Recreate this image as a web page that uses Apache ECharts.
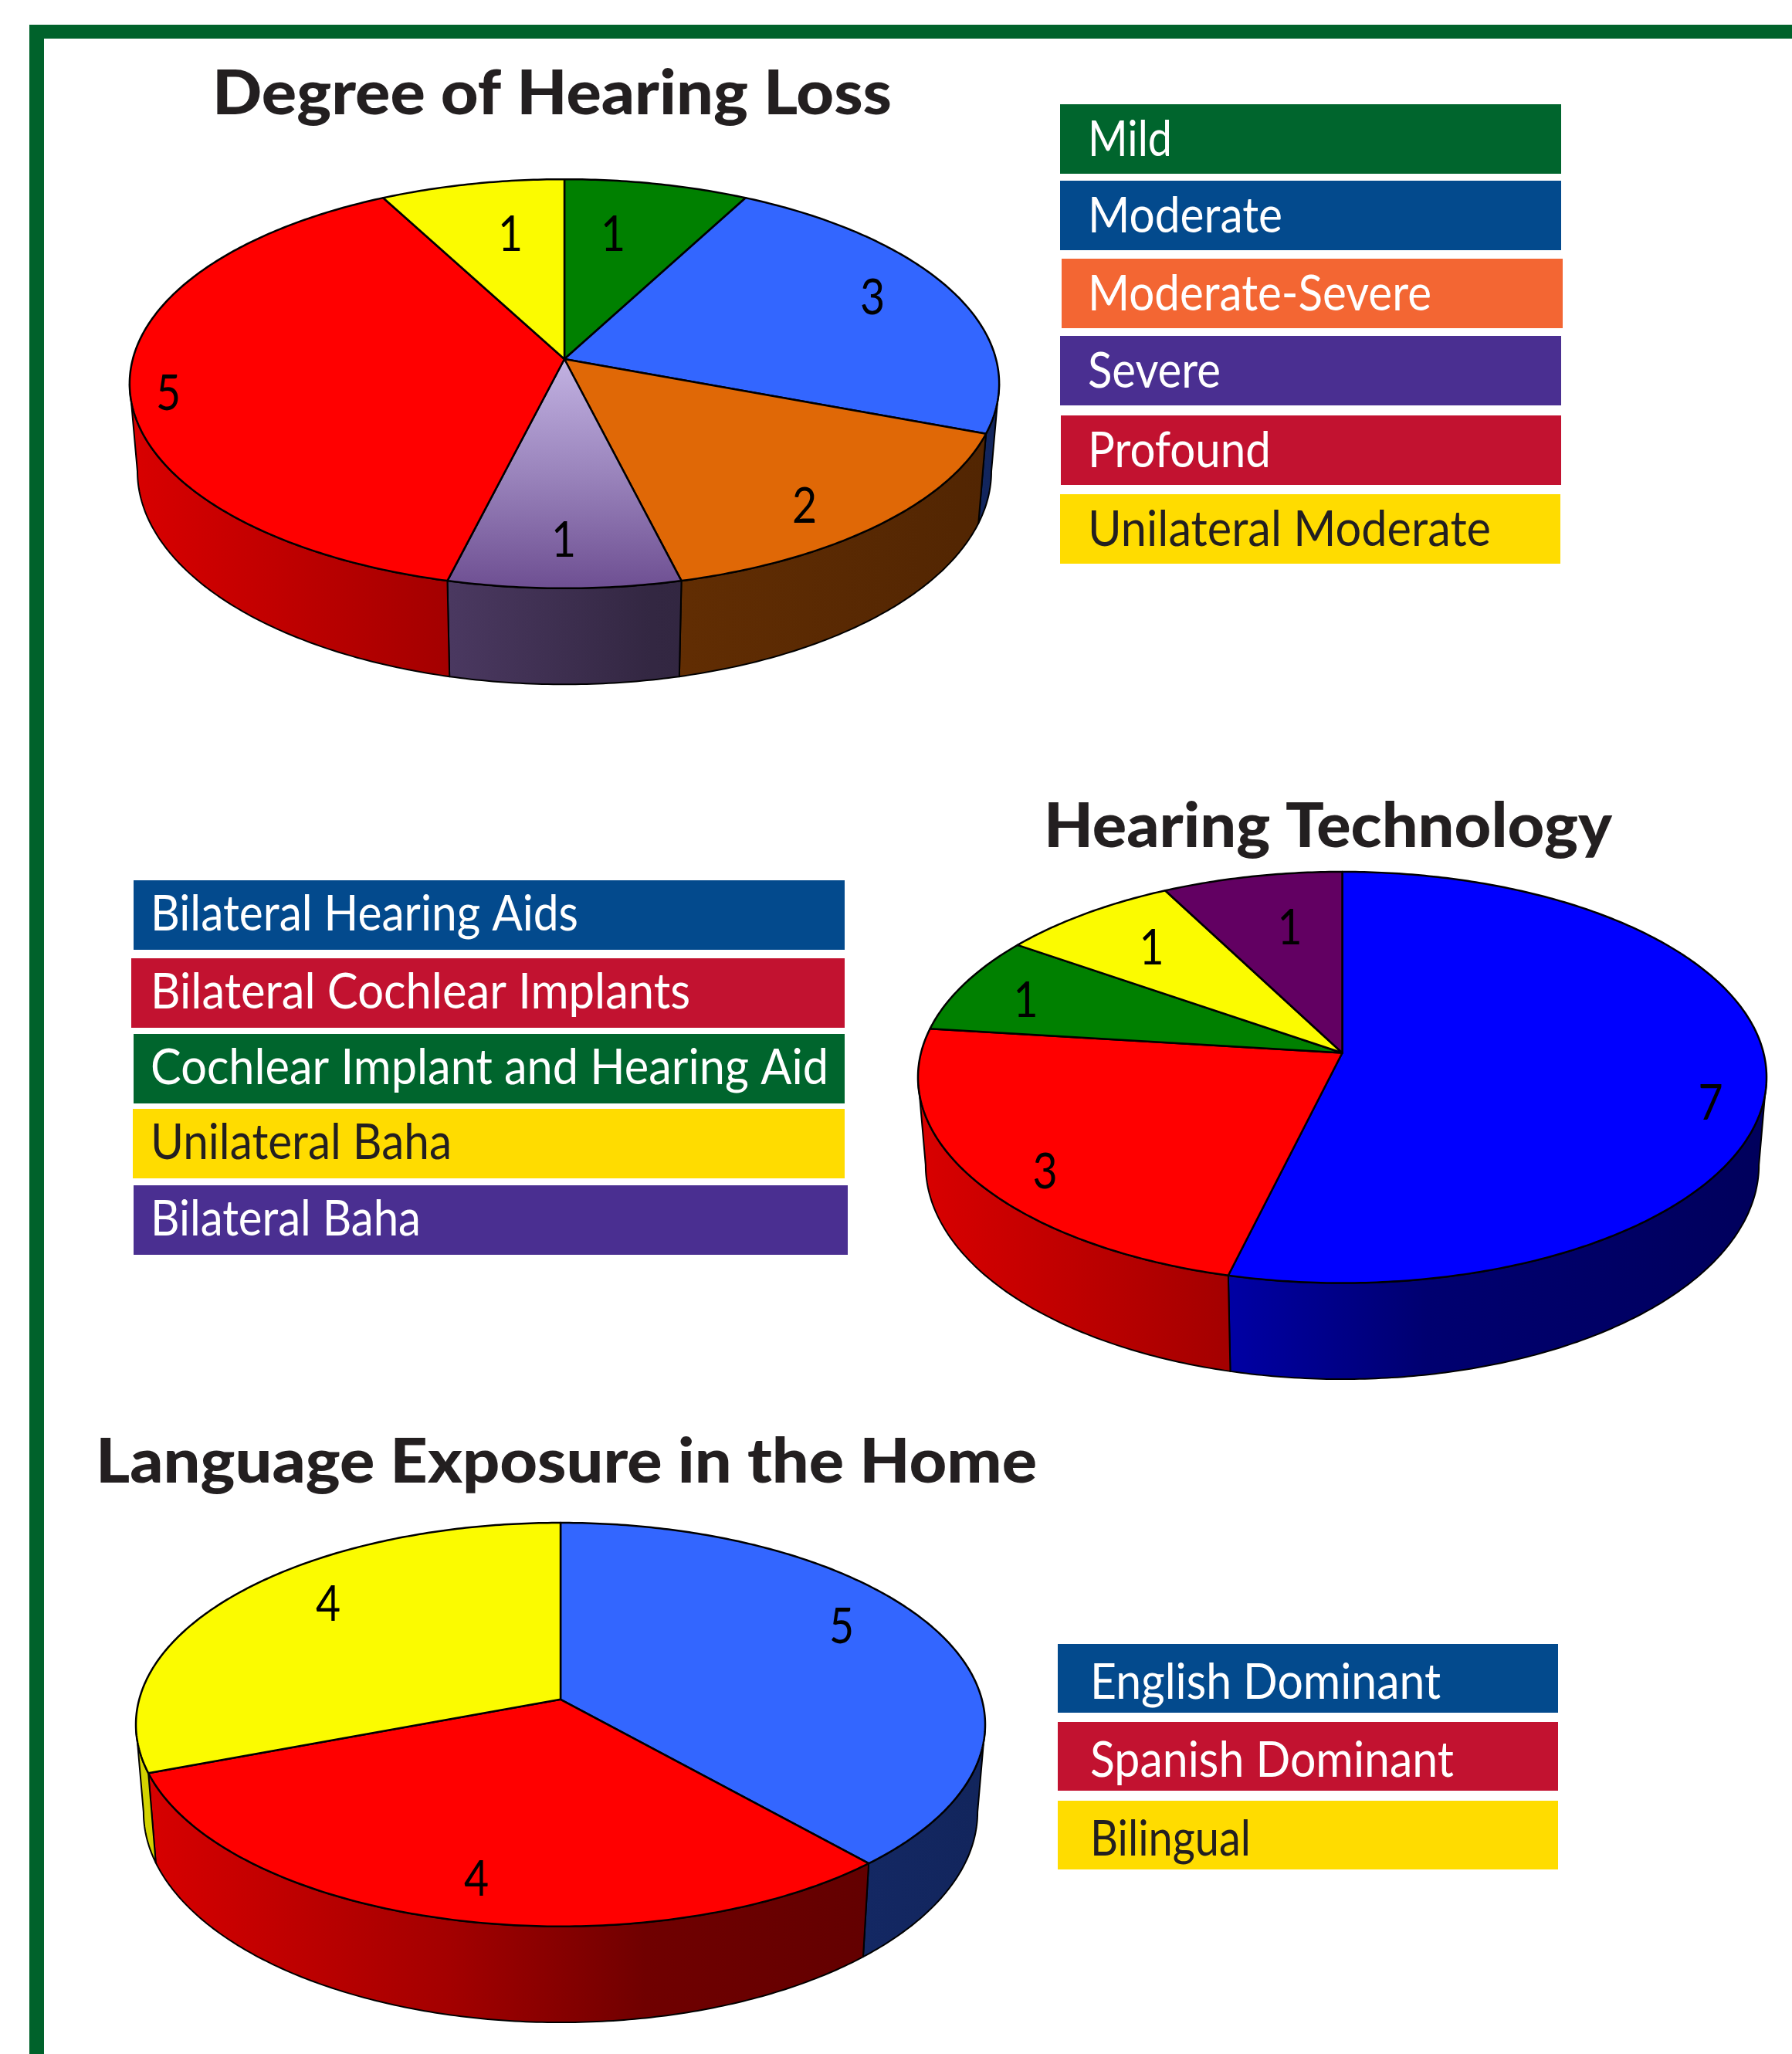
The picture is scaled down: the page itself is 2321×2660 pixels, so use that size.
<!DOCTYPE html>
<html><head><meta charset="utf-8">
<style>html,body{margin:0;padding:0;background:#fff}#c{width:2321px;height:2660px}</style>
<script src="https://cdn.jsdelivr.net/npm/echarts@6/dist/echarts.min.js"></script>
</head><body><div id="c"></div>
<script>
// ---------- data ----------
const degreeTitle = 'Degree of Hearing Loss';
const degreeCategories = ['Mild','Moderate','Moderate-Severe','Severe','Profound','Unilateral Moderate'];
const degreeValues = [1,3,2,1,5,1];
const techTitle = 'Hearing Technology';
const techCategories = ['Bilateral Hearing Aids','Bilateral Cochlear Implants','Cochlear Implant and Hearing Aid','Unilateral Baha','Bilateral Baha'];
const techValues = [7,3,1,1,1];
const langTitle = 'Language Exposure in the Home';
const langCategories = ['English Dominant','Spanish Dominant','Bilingual'];
const langValues = [5,4,4];

// ---------- styles ----------
const GREEN='#008000', BLUE='#3366ff', ORANGE='#e06806', RED='#ff0000', YELLOW='#fbfb00', PLUM='#620062', PURE='#0000ff', LILAC='#745896';
const TXT='#231f20';
const LEG={green:'#00652d',blue:'#034a8d',orange:'#f36633',purple:'#4a2f91',red:'#c21230',yellow:'#ffdc00'};
const shadeStops=[[0,.85],[.37,.64],[.6,.44],[1,.36]];
const lilacTop={type:'linear',global:true,x:0,y:465,x2:0,y2:762,colorStops:[{offset:0,color:'#c2b2e2'},{offset:.5,color:'#9a84bc'},{offset:1,color:'#6e4f92'}]};

// ---------- layout ----------
const pies=[
 {values:degreeValues,colors:[GREEN,BLUE,ORANGE,LILAC,RED,YELLOW],topFill:{3:lilacTop},
  cx:731,ay:465,A:559,B:261,k:.1208,
  labelDx:[63,399,311,-1,-513,-70],labelDy:[-160,-78,192,236,46,-160]},
 {values:techValues,colors:[PURE,RED,GREEN,YELLOW,PLUM],topFill:{},
  cx:1738.5,ay:1363.5,A:545.6,B:262.5,k:.1193,
  labelDx:[477,-385,-410,-247,-68],labelDy:[66,155,-67,-135,-161]},
 {values:langValues,colors:[BLUE,RED,YELLOW],topFill:{},
  cx:726,ay:2200.8,A:545.7,B:257.3,k:.1247,
  labelDx:[364,-109,-301],labelDy:[-93,234,-122]}
];
const wallScale=.982, wallDrop=112, wallStretch=1.042;

const titles=[
 {text:degreeTitle,x:275,w:880,y:122},
 {text:techTitle,x:1352,w:736,y:1071},
 {text:langTitle,x:124,w:1219,y:1894}
];
const legends=[
 {labels:degreeCategories,textX:1409,capMid:47,
  boxes:[[1373,135,649,90],[1373,234,649,90],[1375,335,649,90],[1373,435,649,90],[1374,538,648,90],[1373,640,648,90]],
  fills:[LEG.green,LEG.blue,LEG.orange,LEG.purple,LEG.red,LEG.yellow],
  widths:[109,252,445,172,237,522]},
 {labels:techCategories,textX:195,capMid:45,
  boxes:[[173,1140,921,90],[170,1241,924,90],[173,1339,921,90],[172,1436,922,90],[173,1535,925,90]],
  fills:[LEG.blue,LEG.red,LEG.green,LEG.yellow,LEG.purple],
  widths:[554,699,878,390,350]},
 {labels:langCategories,textX:1412,capMid:50.5,
  boxes:[[1370,2129,648,89],[1370,2230,648,89],[1370,2332,648,89]],
  fills:[LEG.blue,LEG.red,LEG.yellow],
  widths:[454,471,208]}
];

// ---------- helpers ----------
const mctx=document.createElement('canvas').getContext('2d');
function fitScale(text,font,w){mctx.font=font;return w/mctx.measureText(text).width;}
function hex(c){c=c.slice(1);return [0,2,4].map(i=>parseInt(c.substr(i,2),16));}
function shaded(c,f){const h=hex(c);return 'rgb('+h.map(v=>Math.round(v*f)).join(',')+')';}
function pt(g,deg,bottom){
  const t=deg*Math.PI/180,s=Math.sin(t),c=Math.cos(t),d=1+g.k*c;
  if(bottom) return [g.cx+wallScale*g.A*s/d, g.ay+wallDrop-g.B*wallStretch*c/d];
  return [g.cx+g.A*s/d, g.ay-g.B*c/d];
}
function arc(g,a,b,bottom){
  const n=Math.max(2,Math.ceil(Math.abs(b-a)*1.5)),r=[];
  for(let i=0;i<=n;i++) r.push(pt(g,a+(b-a)*i/n,bottom));
  return r;
}
function makeSeries(g){
  const total=g.values.reduce((a,b)=>a+b,0);
  const starts=[];let acc=0;
  g.values.forEach(v=>{starts.push(acc/total*360);acc+=v;});
  const tan=Math.acos(-g.k)*180/Math.PI;
  const rx=g.A/Math.sqrt(1-g.k*g.k);
  return {
    type:'custom',coordinateSystem:'none',silent:true,animation:false,
    data:g.values.map(v=>[v]),
    renderItem:function(params,api){
      const i=params.dataIndex,val=api.value(0),a=starts[i],b=a+val/total*360;
      const col=g.colors[i],kids=[];
      const wa=Math.max(a,tan),wb=Math.min(b,360-tan);
      if(wb>wa){
        const pts=arc(g,wa,wb,false).concat(arc(g,wb,wa,true));
        kids.push({type:'polygon',z2:1,shape:{points:pts},style:{
          fill:{type:'linear',global:true,x:g.cx-rx,y:0,x2:g.cx+rx,y2:0,
            colorStops:shadeStops.map(s=>({offset:s[0],color:shaded(col,s[1])}))},
          stroke:'#000',lineWidth:2,lineJoin:'round'}});
      }
      const top=[[g.cx,g.ay]].concat(arc(g,a,b,false));
      kids.push({type:'polygon',z2:2,shape:{points:top},style:{
        fill:g.topFill[i]||col,stroke:'#000',lineWidth:2.5,lineJoin:'round'}});
      const font='400 63px Lato',str=String(val);
      kids.push({type:'text',z2:3,x:g.cx+g.labelDx[i],y:g.ay+g.labelDy[i],scaleX:.88,style:{
        text:str,font:font,fill:'#000',textAlign:'center',textVerticalAlign:'middle'}});
      return {type:'group',children:kids};
    }
  };
}

// ---------- graphics ----------
const elements=[
 {type:'rect',shape:{x:38,y:32,width:2283,height:18},style:{fill:'#00622b'}},
 {type:'rect',shape:{x:38,y:32,width:19,height:2628},style:{fill:'#00622b'}}
];
titles.forEach(t=>{
  const font='900 80px Lato';
  elements.push({type:'text',x:t.x,y:t.y,scaleX:fitScale(t.text,font,t.w),style:{
    text:t.text,font:font,fill:TXT,textAlign:'left',textVerticalAlign:'middle'}});
});
legends.forEach(l=>{
  l.labels.forEach((lab,i)=>{
    const b=l.boxes[i],font='400 63px Lato';
    elements.push({type:'rect',shape:{x:b[0],y:b[1],width:b[2],height:b[3]},style:{fill:l.fills[i]}});
    elements.push({type:'text',z:1,x:l.textX,y:b[1]+l.capMid,scaleX:fitScale(lab,font,l.widths[i]),style:{
      text:lab,font:font,fill:l.fills[i]===LEG.yellow?TXT:'#fff',textAlign:'left',textVerticalAlign:'middle'}});
  });
});

const chart=echarts.init(document.getElementById('c'),null,{renderer:'canvas'});
chart.setOption({
  backgroundColor:'#fff',animation:false,
  graphic:{elements:elements},
  series:pies.map(makeSeries)
});
</script></body></html>
